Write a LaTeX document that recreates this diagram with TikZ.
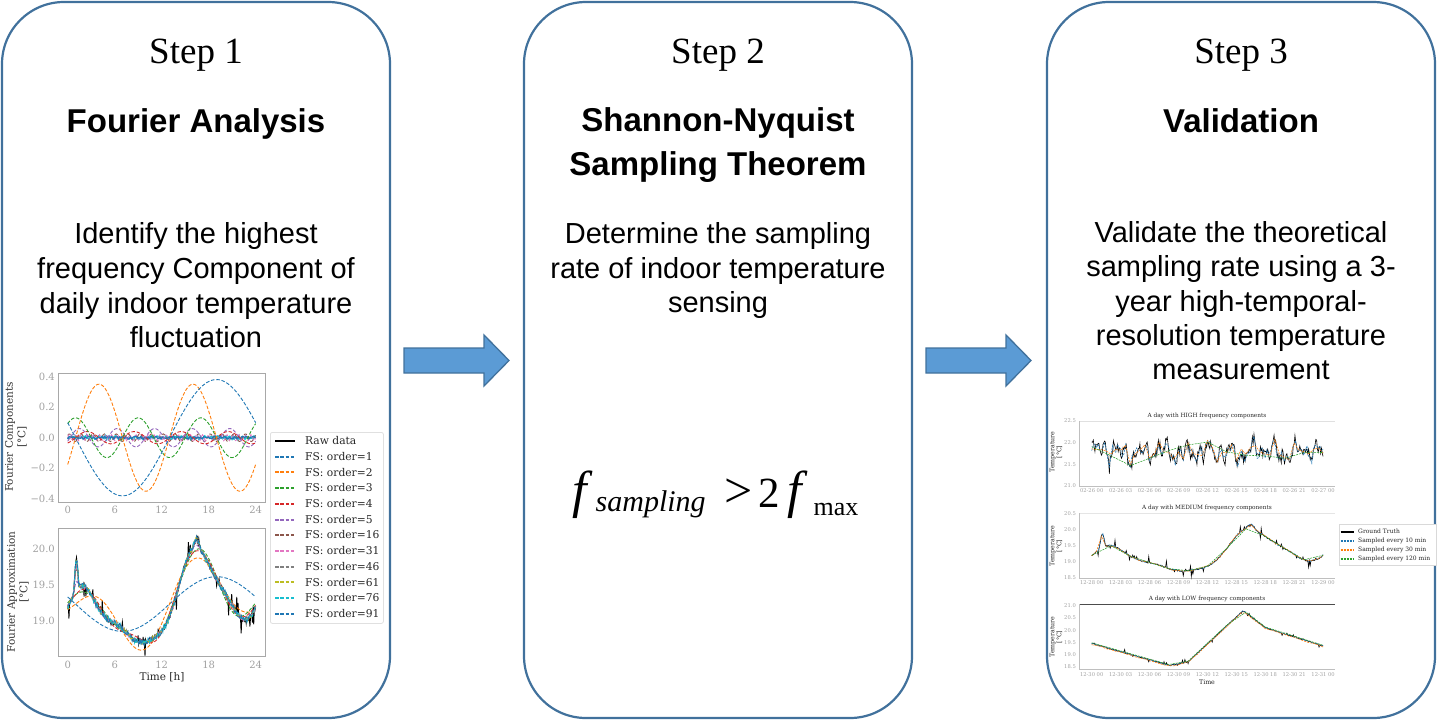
\documentclass[tikz,border=0pt]{standalone}
\usepackage{fontspec}
\setmainfont{Liberation Serif}
\setsansfont{Liberation Sans}
\newfontfamily\plotfont{DejaVu Serif}
\usetikzlibrary{calc}
\definecolor{boxblue}{HTML}{41719C}
\definecolor{arrfill}{HTML}{5B9BD5}
\definecolor{mCa}{HTML}{1F77B4}
\definecolor{mCb}{HTML}{FF7F0E}
\definecolor{mCc}{HTML}{2CA02C}
\definecolor{mCd}{HTML}{D62728}
\definecolor{mCe}{HTML}{9467BD}
\definecolor{mCf}{HTML}{8C564B}
\definecolor{mCg}{HTML}{E377C2}
\definecolor{mCh}{HTML}{7F7F7F}
\definecolor{mCi}{HTML}{BCBD22}
\definecolor{mCj}{HTML}{17BECF}
\definecolor{tickgray}{HTML}{A0A0A0}
\definecolor{framegray}{HTML}{A8A8A8}
\begin{document}
\begin{tikzpicture}[x=1pt,y=-1pt,
  declare function={
    oa(\t)=0.38*sin(15*(\t-13));
    ob(\t)=0.35*cos(30*(\t-4));
    oc(\t)=0.13*cos(45*(\t-1));
    od(\t)=0.04*cos(60*(\t-2.5));
    oe(\t)=0.06*cos(75*(\t-1.5));
    bq(\t)=max(0,1-(\t-1.1)*(\t-1.1)/0.15);
    bq2(\t)=max(0,1-(\t-16.5)*(\t-16.5)/0.3);
    bump(\t)=0.42*bq(\t)*bq(\t)+0.12*bq2(\t);
    full(\t)=19.24+oa(\t)+ob(\t)+oc(\t)+od(\t)+oe(\t);
    LX(\t)=67.7+7.83*\t;
    TY(\v)=437.7-153*\v;
    BY(\v)=549.3-72*(\v-20);
    RX(\t)=1091.7+9.64*\t;
    AY(\v)=486-43.5*(\v-21);
    MY(\v)=561.7-32.4*(\v-19);
    CY(\v)=666.7-24.4*(\v-18.5);
    hA(\t)=21.78+0.12*sin(360*\t/2.3)+0.1*sin(360*\t/1.1+30)+0.08*sin(360*\t/0.7+70)+0.05*sin(360*\t/5.3);
    low(\t)=(\t<8.1) ? (19.45-0.111*\t) : ((\t<10) ? (18.55+0.079*(\t-8.1)) : ((\t<15.7) ? (18.7+0.368*(\t-10)) : ((\t<18) ? (20.8-0.304*(\t-15.7)) : (20.1-0.125*(\t-18)))));
  },
  stepbox/.style={draw=boxblue, line width=2.2pt, rounded corners=62pt, minimum width=388pt, minimum height=716pt, inner sep=0pt},
  steptitle/.style={font=\fontsize{37}{40}\selectfont, anchor=base, inner sep=0pt},
  headtxt/.style={font=\sffamily\bfseries\fontsize{33}{38}\selectfont, anchor=base, inner sep=0pt},
  bodytxt/.style={font=\sffamily\fontsize{29}{34}\selectfont, anchor=base, inner sep=0pt},
  blockarrow/.style={fill=arrfill, draw=boxblue, line width=1.3pt, line join=miter},
  axframe/.style={draw=framegray, line width=0.8pt},
  ticklbl/.style={font=\plotfont\fontsize{10}{12}\selectfont, text=tickgray, inner sep=0pt},
  axlbl/.style={font=\plotfont\fontsize{10.5}{12.5}\selectfont, text=black!80, inner sep=0pt, align=center},
  leglbl/.style={font=\plotfont\fontsize{10.7}{12}\selectfont, text=black!85, anchor=west, inner sep=0pt},
  fsline/.style={line width=0.9pt, dash pattern=on 3.5pt off 1.8pt},
  legline/.style={line width=2pt, dash pattern=on 3.5pt off 1.8pt},
  rline/.style={line width=0.55pt, dash pattern=on 2pt off 1pt},
  rlegline/.style={line width=1.6pt, dash pattern=on 2pt off 1pt},
  rtick/.style={font=\plotfont\fontsize{5.2}{6}\selectfont, text=tickgray, inner sep=0pt},
  rtitle/.style={font=\plotfont\fontsize{5.8}{7}\selectfont, text=black!85, inner sep=0pt},
  rlbl/.style={font=\plotfont\fontsize{6.3}{7}\selectfont, text=black!85, inner sep=0pt, align=center},
  rleg/.style={font=\plotfont\fontsize{6}{7}\selectfont, text=black!85, anchor=west, inner sep=0pt},
]
\useasboundingbox (0,0) rectangle (1437,721);
\pgfmathsetseed{7}

% ---------- boxes ----------
\node[stepbox] (box1) at (196,360) {};
\node[stepbox] (box2) at (718,360) {};
\node[stepbox] (box3) at (1241,360) {};

% ---------- block arrows ----------
\draw[blockarrow] (404,348) -- (484,348) -- (484,335) -- (509,360.5) -- (484,386) -- (484,373) -- (404,373) -- cycle;
\draw[blockarrow] (926,348) -- (1006,348) -- (1006,335) -- (1031,360.5) -- (1006,386) -- (1006,373) -- (926,373) -- cycle;

% ---------- texts ----------
\node[steptitle] (st1) at (196,63) {Step 1};
\node[steptitle] (st2) at (718,63) {Step 2};
\node[steptitle] (st3) at (1241,63) {Step 3};

\node[headtxt] (h1) at (196,132) {Fourier Analysis};
\node[headtxt] (h2a) at (718,131) {Shannon-Nyquist};
\node[headtxt] (h2b) at (718,175) {Sampling Theorem};
\node[headtxt] (h3) at (1241,132) {Validation};

\node[bodytxt] (t1a) at (196,243) {Identify the highest};
\node[bodytxt] (t1b) at (196,278) {frequency Component of};
\node[bodytxt] (t1c) at (196,313) {daily indoor temperature};
\node[bodytxt] (t1d) at (196,347) {fluctuation};

\node[bodytxt] (t2a) at (718,243) {Determine the sampling};
\node[bodytxt] (t2b) at (718,278) {rate of indoor temperature};
\node[bodytxt] (t2c) at (718,312) {sensing};

\node[bodytxt] (t3a) at (1241,242) {Validate the theoretical};
\node[bodytxt] (t3b) at (1241,276.5) {sampling rate using a 3-};
\node[bodytxt] (t3c) at (1241,311) {year high-temporal-};
\node[bodytxt] (t3d) at (1241,345) {resolution temperature};
\node[bodytxt] (t3e) at (1241,379) {measurement};

% ---------- equation ----------
\node[anchor=base west, inner sep=0pt] (eq) at (572,507)
  {\rlap{\fontsize{52}{52}\selectfont\itshape f}%
   \rlap{\hspace{23pt}\raisebox{-4pt}{\fontsize{30}{30}\selectfont\itshape sampling}}%
   \rlap{\hspace{152pt}\fontsize{50}{50}\selectfont >}%
   \rlap{\hspace{186pt}\fontsize{43}{43}\selectfont 2}%
   \rlap{\hspace{215pt}\fontsize{52}{52}\selectfont\itshape f}%
   \rlap{\hspace{241pt}\raisebox{-8pt}{\fontsize{26}{26}\selectfont max}}%
   \hspace{285pt}};

% ---------- left plot: top axes ----------
\draw[axframe] (58,373) rectangle (265,502);
\foreach \v/\s [count=\i] in {0.4/0.4,0.2/0.2,0/0.0,-0.2/−0.2,-0.4/−0.4}
  \node[ticklbl, anchor=east] (ltt\i) at (55,{TY(\v)}) {\s};
\foreach \t [count=\i] in {0,6,12,18,24}
  \node[ticklbl] (ltx\i) at ({LX(\t)},510) {\t};
\node[axlbl, rotate=90] (lyl1) at (16,437) {Fourier Components\\{[°C]}};

\draw[mCj, line width=1.4pt] plot[domain=0:24, samples=160, variable=\t] ({LX(\t)},{TY(0.012*rand)});
\draw[fsline, mCf] plot[domain=0:24, samples=160, variable=\t] ({LX(\t)},{TY(0.025*sin(240*\t+40))});
\draw[fsline, mCg] plot[domain=0:24, samples=160, variable=\t] ({LX(\t)},{TY(0.02*sin(465*\t))});
\draw[mCa, line width=1.2pt] plot[domain=0:24, samples=160, variable=\t] ({LX(\t)},{TY(0.01*rand)});
\draw[fsline, mCe] plot[domain=0:24, samples=120, variable=\t] ({LX(\t)},{TY(oe(\t))});
\draw[fsline, mCd] plot[domain=0:24, samples=120, variable=\t] ({LX(\t)},{TY(od(\t))});
\draw[fsline, mCc] plot[domain=0:24, samples=120, variable=\t] ({LX(\t)},{TY(oc(\t))});
\draw[fsline, mCb] plot[domain=0:24, samples=120, variable=\t] ({LX(\t)},{TY(ob(\t))});
\draw[fsline, mCa] plot[domain=0:24, samples=120, variable=\t] ({LX(\t)},{TY(oa(\t))});

% ---------- left plot: bottom axes ----------
\draw[axframe] (58,528) rectangle (265,656);
\foreach \v/\s [count=\i] in {20/20.0,19.5/19.5,19/19.0}
  \node[ticklbl, anchor=east] (lbt\i) at (55,{BY(\v)}) {\s};
\foreach \t [count=\i] in {0,6,12,18,24}
  \node[ticklbl] (lbx\i) at ({LX(\t)},665) {\t};
\node[axlbl, rotate=90] (lyl2) at (18,592) {Fourier Approximation\\{[°C]}};
\node[axlbl, text=black!85] (lxl) at (162,677) {Time [h]};

\draw[black, line width=0.9pt] plot[domain=0:24, samples=300, variable=\t] ({LX(\t)},{BY(full(\t)+bump(\t)+0.03*rand+(rnd>0.88)*0.22*rand)});
\draw[fsline, mCa] plot[domain=0:24, samples=120, variable=\t] ({LX(\t)},{BY(19.24+oa(\t))});
\draw[fsline, mCb] plot[domain=0:24, samples=120, variable=\t] ({LX(\t)},{BY(19.24+oa(\t)+ob(\t))});
\draw[fsline, mCc] plot[domain=0:24, samples=120, variable=\t] ({LX(\t)},{BY(19.24+oa(\t)+ob(\t)+oc(\t))});
\draw[fsline, mCd] plot[domain=0:24, samples=120, variable=\t] ({LX(\t)},{BY(19.24+oa(\t)+ob(\t)+oc(\t)+od(\t))});
\draw[fsline, mCe] plot[domain=0:24, samples=120, variable=\t] ({LX(\t)},{BY(full(\t)+0.3*bump(\t))});
\draw[fsline, mCf] plot[domain=0:24, samples=160, variable=\t] ({LX(\t)},{BY(full(\t)+0.7*bump(\t)+0.02*rand)});
\draw[fsline, mCg] plot[domain=0:24, samples=200, variable=\t] ({LX(\t)},{BY(full(\t)+0.8*bump(\t)+0.03*rand)});
\draw[fsline, mCh] plot[domain=0:24, samples=200, variable=\t] ({LX(\t)},{BY(full(\t)+0.9*bump(\t)+0.03*rand)});
\draw[fsline, mCi] plot[domain=0:24, samples=200, variable=\t] ({LX(\t)},{BY(full(\t)+bump(\t)+0.03*rand)});
\draw[fsline, mCj] plot[domain=0:24, samples=240, variable=\t] ({LX(\t)},{BY(full(\t)+bump(\t)+0.04*rand)});
\draw[fsline, mCa] plot[domain=0:24, samples=240, variable=\t] ({LX(\t)},{BY(full(\t)+bump(\t)+0.04*rand)});

% ---------- left legend ----------
\node[draw=black!12, fill=white, rounded corners=2pt, line width=0.8pt, minimum width=113pt, minimum height=191pt, anchor=north west, inner sep=0pt] (legL) at (270,432) {};
\coordinate (lgA0) at (275,441);
\draw[black, line width=1.6pt] (lgA0) -- ++(20,0) coordinate (lgB0);
\node[leglbl] (lgT0) at (305,440.7) {Raw data};
\foreach \clr/\lab [count=\i] in {mCa/1,mCb/2,mCc/3,mCd/4,mCe/5,mCf/16,mCg/31,mCh/46,mCi/61,mCj/76,mCa/91}{
  \coordinate (lgA\i) at (275,{441+15.7*\i});
  \draw[legline, draw=\clr] (lgA\i) -- ++(20,0) coordinate (lgB\i);
  \node[leglbl] (lgT\i) at (305,{440.7+15.7*\i}) {FS: order=\lab};
}

% ---------- right plots ----------
% plot A
\draw[draw=black!12, line width=0.5pt] (1079,421) -- (1335,421);
\draw[draw=black!25, line width=0.6pt] (1079,421) -- (1079,486) -- (1335,486);
\node[rtitle] (ttA) at (1207,416) {A day with HIGH frequency components};
\foreach \v/\s [count=\i] in {22.5/22.5,22/22.0,21.5/21.5,21/21.0}
  \node[rtick, anchor=east] (aty\i) at (1076,{AY(\v)}) {\s};
\foreach \h [count=\i from 0] in {00,03,06,09,12,15,18,21}
  \node[rtick] (atx\i) at ({RX(3*\i)},490.5) {02-26 \h};
\node[rtick] (atx8) at ({RX(24)},490.5) {02-27 00};
\node[rlbl, rotate=90] (ayl) at (1056,452) {Temperature\\{[°C]}};
\draw[black, line width=0.6pt] plot[domain=0:24, samples=289, variable=\t] ({RX(\t)},{AY(hA(\t)+0.12*rand+(rnd>0.9)*0.18*rand)});
\draw[rline, mCa] plot[domain=0:24, samples=145, variable=\t] ({RX(\t)},{AY(hA(\t)+0.1*rand)});
\draw[rline, mCb] plot[domain=0:24, samples=49, variable=\t] ({RX(\t)},{AY(hA(\t)+0.05*rand)});
\draw[rline, mCc] plot[domain=0:24, samples=13, variable=\t] ({RX(\t)},{AY(hA(\t))});

% plot B
\draw[draw=black!10, line width=0.5pt] (1079,513) -- (1335,513);
\draw[draw=black!25, line width=0.6pt] (1079,513) -- (1079,578) -- (1335,578);
\node[rtitle] (ttB) at (1207,508) {A day with MEDIUM frequency components};
\foreach \v/\s [count=\i] in {20.5/20.5,20/20.0,19.5/19.5,19/19.0,18.5/18.5}
  \node[rtick, anchor=east] (bty\i) at (1076,{MY(\v)}) {\s};
\foreach \h [count=\i from 0] in {00,03,06,09,12,15,18,21}
  \node[rtick] (btx\i) at ({RX(3*\i)},583) {12-28 \h};
\node[rtick] (btx8) at ({RX(24)},583) {12-29 00};
\node[rlbl, rotate=90] (byl) at (1056,546) {Temperature\\{[°C]}};
\draw[black, line width=0.6pt] plot[domain=0:24, samples=289, variable=\t] ({RX(\t)},{MY(full(\t)+bump(\t)+0.02*rand+(rnd>0.88)*0.2*rand)});
\draw[rline, mCa] plot[domain=0:24, samples=145, variable=\t] ({RX(\t)},{MY(full(\t)+bump(\t)+0.03*rand)});
\draw[rline, mCb] plot[domain=0:24, samples=49, variable=\t] ({RX(\t)},{MY(full(\t)+bump(\t)+0.02*rand)});
\draw[rline, mCc] plot[domain=0:24, samples=13, variable=\t] ({RX(\t)},{MY(full(\t)+0.3*bump(\t))});

% right legend
\node[draw=black!15, fill=white, line width=0.5pt, minimum width=97pt, minimum height=41pt, anchor=north west, inner sep=0pt] (legR) at (1338.5,524) {};
\coordinate (rgA0) at (1340.5,532);
\draw[black, line width=1.2pt] (rgA0) -- ++(13,0) coordinate (rgB0);
\node[rleg] (rgT0) at (1358,531.7) {Ground Truth};
\foreach \clr/\lab [count=\i] in {mCa/10,mCb/30,mCc/120}{
  \coordinate (rgA\i) at (1340.5,{532+9*\i});
  \draw[rlegline, draw=\clr] (rgA\i) -- ++(13,0) coordinate (rgB\i);
  \node[rleg] (rgT\i) at (1358,{531.7+8.9*\i}) {Sampled every \lab\ min};
}

% plot C
\draw[draw=black!70, line width=0.6pt] (1079,604) -- (1335,604);
\draw[draw=black!25, line width=0.6pt] (1079,604) -- (1079,669) -- (1335,669);
\node[rtitle] (ttC) at (1207,599) {A day with LOW frequency components};
\foreach \v/\s [count=\i] in {21/21.0,20.5/20.5,20/20.0,19.5/19.5,19/19.0,18.5/18.5}
  \node[rtick, anchor=east] (cty\i) at (1076,{CY(\v)}) {\s};
\foreach \h [count=\i from 0] in {00,03,06,09,12,15,18,21}
  \node[rtick] (ctx\i) at ({RX(3*\i)},675) {12-30 \h};
\node[rtick] (ctx8) at ({RX(24)},675) {12-31 00};
\node[rlbl, rotate=90] (cyl) at (1056,637) {Temperature\\{[°C]}};
\node[rlbl] (cxl) at (1207,682) {Time};
\draw[black, line width=0.6pt] plot[domain=0:24, samples=289, variable=\t] ({RX(\t)},{CY(low(\t)+0.02*rand+(rnd>0.9)*0.12*rand)});
\draw[rline, mCa] plot[domain=0:24, samples=145, variable=\t] ({RX(\t)},{CY(low(\t)+0.02*rand)});
\draw[rline, mCb] plot[domain=0:24, samples=49, variable=\t] ({RX(\t)},{CY(low(\t)-0.03+0.02*rand)});
\draw[rline, mCc] plot[domain=0:24, samples=13, variable=\t] ({RX(\t)},{CY(low(\t)+0.03)});
\end{tikzpicture}
\end{document}
